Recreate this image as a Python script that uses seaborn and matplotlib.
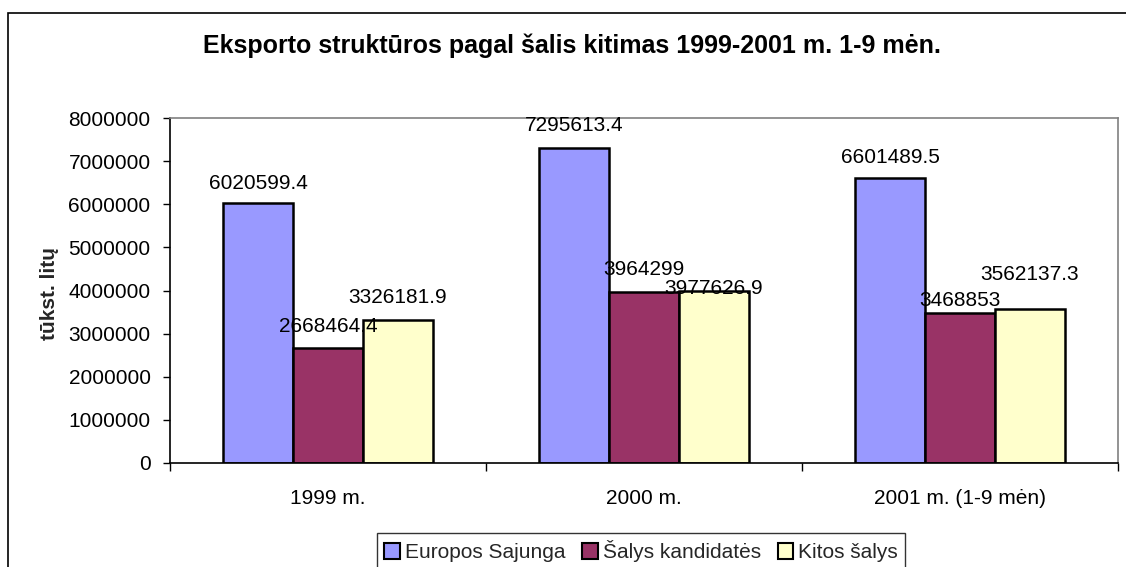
import matplotlib
matplotlib.use("Agg")
import matplotlib.pyplot as plt
import matplotlib.patches as mpatches
import matplotlib.transforms as mtransforms
import seaborn as sns
import pandas as pd

# ---- data ----
categories = ["1999 m.", "2000 m.", "2001 m. (1-9 mėn)"]
series_names = ["Europos Sajunga", "Šalys kandidatės", "Kitos šalys"]
eu_values = [6020599.4, 7295613.4, 6601489.5]
cand_values = [2668464.4, 3964299, 3468853]
other_values = [3326181.9, 3977626.9, 3562137.3]
eu_labels = ["6020599.4", "7295613.4", "6601489.5"]
cand_labels = ["2668464.4", "3964299", "3468853"]
other_labels = ["3326181.9", "3977626.9", "3562137.3"]
title = "Eksporto struktūros pagal šalis kitimas 1999-2001 m. 1-9 mėn."
y_label = "tūkst. litų"
y_ticks = [0, 1000000, 2000000, 3000000, 4000000, 5000000, 6000000, 7000000, 8000000]

# ---- style ----
colors = ["#9999FF", "#993366", "#FFFFCC"]
# vertical gap (pixels) between bar top and label baseline, per series/category
label_gap_px = [[14, 17, 15], [16, 17, 7], [17, -3, 29]]

sns.set_theme(style="white")
plt.rcParams["font.family"] = ["Liberation Sans", "DejaVu Sans"]

values = [eu_values, cand_values, other_values]
labels = [eu_labels, cand_labels, other_labels]
rows = []
for s, vals in zip(series_names, values):
    for c, v in zip(categories, vals):
        rows.append({"cat": c, "series": s, "value": v})
df = pd.DataFrame(rows)

W, H = 1126, 567
fig = plt.figure(figsize=(W / 100, H / 100), dpi=100)
ax = fig.add_axes([170 / W, 1 - 463 / H, (1118 - 170) / W, (463 - 118) / H])

sns.barplot(data=df, x="cat", y="value", hue="series", order=categories,
            hue_order=series_names, palette=colors, width=0.665, gap=0,
            edgecolor="black", linewidth=1.8, saturation=1, legend=False, ax=ax,
            errorbar=None)

ax.set_xlim(-0.5, 2.5)
ax.set_ylim(0, 8000000)
ax.set_yticks(y_ticks)
ax.set_yticklabels([str(t) for t in y_ticks])
ax.set_xlabel("")
ax.set_ylabel(y_label, fontsize=15, fontweight="bold")
ax.yaxis.set_label_coords(-0.117, 0.49)

ax.tick_params(axis="y", which="major", left=True, length=5, width=1,
               color="black", pad=9, labelsize=15, labelcolor="black")
ax.tick_params(axis="x", which="major", bottom=False, length=0, pad=19,
               labelsize=15, labelcolor="black")
ax.set_xticks([-0.5, 0.5, 1.5, 2.5], minor=True)
ax.tick_params(axis="x", which="minor", bottom=True, length=6, width=1,
               color="black")

for side in ["left", "bottom"]:
    ax.spines[side].set_color("black")
    ax.spines[side].set_linewidth(1.2)
for side in ["top", "right"]:
    ax.spines[side].set_color("#808080")
    ax.spines[side].set_linewidth(1.2)
ax.spines["bottom"].set_zorder(5)

# value labels
for si, container in enumerate(ax.containers):
    for ci, bar in enumerate(container):
        xc = bar.get_x() + bar.get_width() / 2
        yv = bar.get_height()
        tr = mtransforms.offset_copy(ax.transData, fig=fig, x=0,
                                     y=label_gap_px[si][ci], units="dots")
        ax.text(xc, yv, labels[si][ci], transform=tr, ha="center",
                va="baseline", fontsize=15, color="black", zorder=6,
                clip_on=False)

# title
fig.text(572 / W, 1 - 53 / H, title, ha="center", va="baseline",
         fontsize=18, fontweight="bold", color="black")

# legend
handles = [mpatches.Patch(facecolor=c, edgecolor="black", linewidth=1.5)
           for c in colors]
leg = fig.legend(handles, series_names, loc="upper center",
                 bbox_to_anchor=(641 / W, 1 - 533 / H), ncol=3, fontsize=15,
                 frameon=True, fancybox=False, handlelength=0.75,
                 handleheight=0.75, handletextpad=0.25, columnspacing=0.8,
                 borderpad=0.35, borderaxespad=0)
leg.get_frame().set_edgecolor("black")
leg.get_frame().set_linewidth(1.0)

# chart-area border
border = mpatches.Rectangle((8 / W, -0.2), 1.2, 1.2 - 13 / H,
                            transform=fig.transFigure, fill=False,
                            edgecolor="black", linewidth=1.2)
fig.patches.append(border)

fig.savefig("out.png", dpi=100)
